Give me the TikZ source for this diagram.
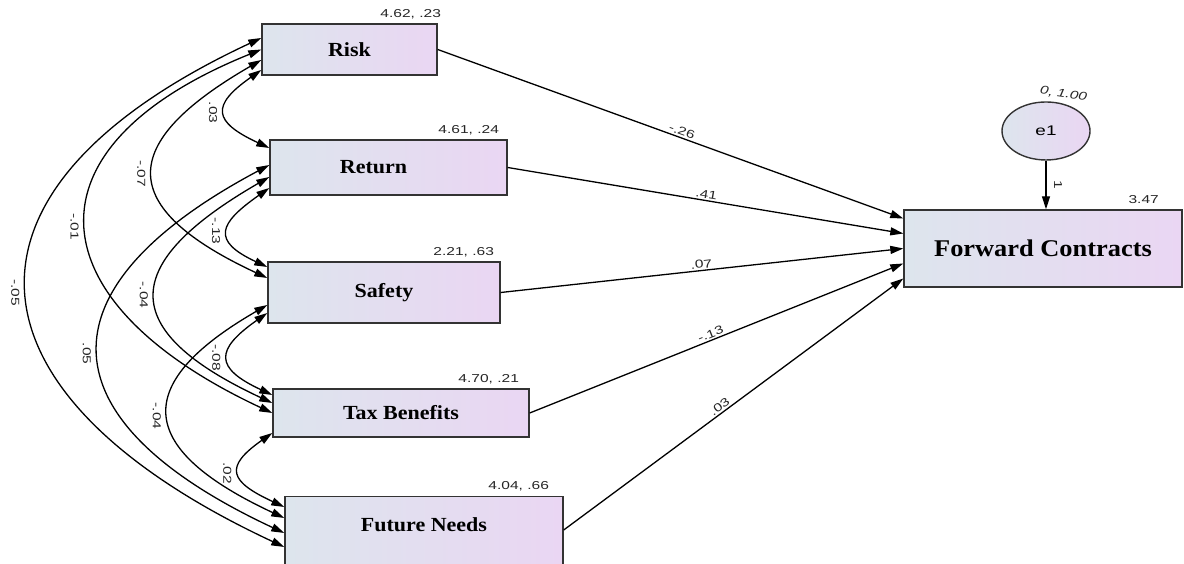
\documentclass[tikz,border=0pt]{standalone}
\usepackage{fontspec}
\usetikzlibrary{arrows.meta,shapes.geometric}
\newfontfamily\boxfont[FakeStretch=1.1]{Liberation Serif}
\newfontfamily\numfont[FakeStretch=1.35]{Liberation Sans}
\definecolor{boxleft}{RGB}{221,229,237}
\definecolor{boxright}{RGB}{234,214,243}

\begin{document}
\begin{tikzpicture}[x=1pt, y=1pt,
  varbox/.style={draw=black!80, line width=1.4pt, rectangle, left color=boxleft, right color=boxright, font=\boxfont\bfseries\fontsize{20}{24}\selectfont, inner sep=0pt},
  meanlbl/.style={font=\numfont\fontsize{11.5}{13}\selectfont, text=black!85, anchor=base, inner sep=0pt},
  coef/.style={font=\numfont\fontsize{11.5}{13}\selectfont, text=black!85, above, sloped, inner sep=1.5pt},
  covlbl/.style={font=\numfont\fontsize{11.5}{13}\selectfont, text=black!85, rotate=-90, anchor=north, inner sep=1pt, outer sep=7pt},
  regarrow/.style={-{Triangle[length=13pt,width=8pt]}, line width=1.3pt},
  cov/.style={{Triangle[length=13pt,width=8pt]}-{Triangle[length=13pt,width=8pt]}, line width=1.3pt}]
\useasboundingbox (0,0) rectangle (1184,564);
\clip (0,0) rectangle (1184,564);

\node[varbox, minimum width=175pt, minimum height=51pt] (risk) at (349.5,514.5) {Risk};
\node[varbox, minimum width=237pt, minimum height=55pt] (return) at (388.5,396.5) {Return\kern30pt};
\node[varbox, minimum width=232pt, minimum height=61pt] (safety) at (384,271.5) {Safety};
\node[varbox, minimum width=256pt, minimum height=48pt] (tax) at (401,151) {Tax Benefits};
\node[varbox, minimum width=278pt, text height=35pt, text depth=52pt, anchor=north] (future) at (424,68) {Future Needs};
\node[varbox, font=\boxfont\bfseries\fontsize{24}{28}\selectfont, minimum width=278pt, minimum height=77pt] (fc) at (1043,315.5) {Forward Contracts};
\node[ellipse, draw=black!80, line width=1.4pt, left color=boxleft, right color=boxright, minimum width=88pt, minimum height=58pt, inner sep=0pt, font=\numfont\fontsize{14}{16}\selectfont] (e1) at (1046,433) {e1};

\node[meanlbl] (riskmean) at ([xshift=-27pt, yshift=6pt]risk.north east) {4.62, .23};
\node[meanlbl] (returnmean) at ([xshift=-39pt, yshift=6pt]return.north east) {4.61, .24};
\node[meanlbl] (safetymean) at ([xshift=-37pt, yshift=6pt]safety.north east) {2.21, .63};
\node[meanlbl] (taxmean) at ([xshift=-41pt, yshift=6pt]tax.north east) {4.70, .21};
\node[meanlbl] (futuremean) at ([xshift=-45pt, yshift=6pt]future.north east) {4.04, .66};
\node[meanlbl] (fcmean) at ([xshift=-39pt, yshift=6pt]fc.north east) {3.47};
\node[meanlbl, rotate=-8, font=\numfont\itshape\fontsize{11.5}{13}\selectfont] (e1var) at ([xshift=17pt, yshift=4pt]e1.north) {0, 1.00};

\draw[regarrow] (e1) -- (e1 |- fc.north) node[covlbl, midway, anchor=south] {1};

\draw[regarrow] (risk.east) -- ([yshift=30pt]fc.west) node[coef, pos=.52] {-.26};
\draw[regarrow] (return.east) -- ([yshift=15pt]fc.west) node[coef, pos=.5] {.41};
\draw[regarrow] (safety.east) -- (fc.west) node[coef, pos=.5] {.07};
\draw[regarrow] (tax.east) -- ([yshift=-15pt]fc.west) node[coef, pos=.49] {-.13};
\draw[regarrow] ([yshift=-34pt]future.north east) -- ([yshift=-30pt]fc.west) node[coef, pos=.47] {.03};

\draw[cov] ([yshift=-20.5pt]risk.west) to[out=215, in=155, distance=62pt] node[covlbl, pos=.5] {.03} ([yshift=19.5pt]return.west);
\draw[cov] ([yshift=-10.5pt]risk.west) to[out=210, in=155, distance=167pt] node[covlbl, pos=.5] {-.07} ([yshift=14.5pt]safety.west);
\draw[cov] (risk.west) to[out=202, in=155, distance=262pt] node[covlbl, pos=.5] {-.01} (tax.west);
\draw[cov] ([yshift=11.5pt]risk.west) to[out=205, in=155, distance=361pt] node[covlbl, pos=.5] {-.05} ([yshift=-51pt]future.north west);
\draw[cov] ([yshift=-20.5pt]return.west) to[out=215, in=155, distance=62pt] node[covlbl, pos=.5] {-.13} ([yshift=25.5pt]safety.west);
\draw[cov] ([yshift=-9.5pt]return.west) to[out=210, in=155, distance=173pt] node[covlbl, pos=.5] {-.04} ([yshift=10pt]tax.west);
\draw[cov] ([yshift=2.5pt]return.west) to[out=208, in=155, distance=265pt] node[covlbl, pos=.5] {.05} ([yshift=-37pt]future.north west);
\draw[cov] ([yshift=-20.5pt]safety.west) to[out=215, in=155, distance=64pt] node[covlbl, pos=.5] {-.08} ([yshift=18pt]tax.west);
\draw[cov] ([yshift=-12.5pt]safety.west) to[out=210, in=155, distance=161pt] node[covlbl, pos=.5] {-.04} ([yshift=-22pt]future.north west);
\draw[cov] ([yshift=-20pt]tax.west) to[out=215, in=155, distance=60pt] node[covlbl, pos=.5] {.02} ([yshift=-11pt]future.north west);
\end{tikzpicture}
\end{document}
